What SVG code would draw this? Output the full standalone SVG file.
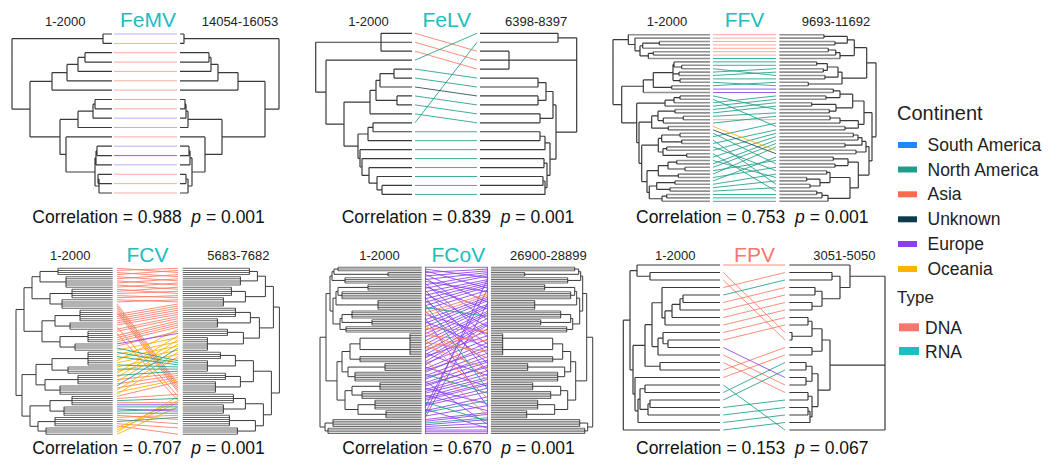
<svg xmlns="http://www.w3.org/2000/svg" width="1058" height="468" viewBox="0 0 1058 468">
<style>
text{font-family:"Liberation Sans",Arial,sans-serif}
.hd{font-size:13px;fill:#222}
.tt{font-size:21px;fill:#20BDBE;text-anchor:middle}
.cr{font-size:17.5px;fill:#111;white-space:pre}
.lg{font-size:17.5px;fill:#222}
.tr{fill:none;stroke:#3a3a3a;stroke-width:1.2}
.tr1{fill:none;stroke:#3a3a3a;stroke-width:1}
.tp{fill:none;stroke:#8f8f8f;stroke-width:1.6}
.d1{fill:none;stroke:#666;stroke-dasharray:1 1.1}
.d2{fill:none;stroke:#6d6d6d;stroke-dasharray:1 .75}
.c{fill:none;stroke-width:1;stroke-opacity:.85}
.s{stroke:#F97A62}.t{stroke:#1E9E89}.p{stroke:#8B3FEF}.o{stroke:#FFB000}.k{stroke:#1E4A55}
</style>
<rect width="1058" height="468" fill="#fff"/>

<g id="femv">
<text class="hd" x="45" y="26">1-2000</text>
<text class="tt" x="148" y="26.7">FeMV</text>
<text class="hd" x="201.7" y="26">14054-16053</text>
<path class="tr" d="M103 34H112M103 43.4H112M103 34V43.4M103 38.7H12M12 38.7V109.2M12 109.2H30M30 81.4V136.9M30 81.4H52M52 72.6V90.1M52 90.1H112M52 72.6H67M67 64.4V80.8M67 80.8H112M67 64.4H78M78 57.4V71.4M78 71.4H112M78 57.4H85M85 52.7V62.1M85 52.7H112M85 62.1H112M30 136.9H60M60 119.4V154.4M60 119.4H78M78 111.2V127.5M78 127.5H112M78 111.2H93M93 104.2V118.2M93 118.2H112M93 104.2H95M95 99.5V108.8M95 99.5H112M95 108.8H112M60 154.4H66M66 136.9V172M66 136.9H112M66 172H95M95 157.9V186M95 157.9H96M96 150.9V164.9M96 164.9H112M96 150.9H97M97 146.2V155.6M97 146.2H112M97 155.6H112M95 186H99M99 179V193M99 193H112M99 179H98M98 174.3V183.6M98 174.3H112M98 183.6H112"/>
<path class="tr" d="M180 34H184M180 43.4H184M184 34V43.4M184 38.7H279M279 38.7V109.2M279 109.2H265M265 81.4V136.9M265 81.4H238M238 72.6V90.1M180 90.1H238M238 72.6H218M218 64.4V80.8M180 80.8H218M218 64.4H211M211 57.4V71.4M180 71.4H211M211 57.4H209M209 52.7V62.1M180 52.7H209M180 62.1H209M265 136.9H222M222 119.4V154.4M222 119.4H188M188 111.2V127.5M180 127.5H188M188 111.2H186M186 104.2V118.2M180 118.2H186M186 104.2H185M185 99.5V108.8M180 99.5H185M180 108.8H185M222 154.4H205M205 136.9V172M180 136.9H205M205 172H192M192 157.9V186M192 157.9H190M190 150.9V164.9M180 164.9H190M190 150.9H189M189 146.2V155.6M180 146.2H189M180 155.6H189M192 186H188M188 179V193M180 193H188M188 179H186M186 174.3V183.6M180 174.3H186M180 183.6H186"/>
<g id="femv-links">
<path class="c" stroke="#B79DF7" d="M114 34H177M114 99.5H177M114 118.2H177M114 127.5H177M114 146.2H177M114 164.9H177"/>
<path class="c" stroke="#8B3FEF" d="M114 155.6H177"/>
<path class="c" stroke="#F99C90" d="M114 43.4H177M114 52.7H177M114 62.1H177M114 71.4H177M114 80.8H177M114 90.1H177M114 108.8H177M114 136.9H177M114 174.3H177M114 183.6H177M114 193H177"/>
</g>
<text class="cr" x="32.3" y="222.7">Correlation = 0.988  <tspan font-style="italic">p</tspan> = 0.001</text>
</g>

<g id="felv">
<text class="hd" x="348.3" y="26">1-2000</text>
<text class="tt" x="446.7" y="26.7">FeLV</text>
<text class="hd" x="505" y="26">6398-8397</text>
<path class="tr" d="M381 33.3V51.2M381 33.3H412M381 42.25H412M381 51.2H412M394 69.1V78.05M394 69.1H412M394 78.05H412M380 73.58V87M380 73.58H394M380 87H412M397 95.95V104.9M397 95.95H412M397 104.9H412M376 80.29V100.43M376 80.29H380M376 100.43H397M370 90.36V113.85M370 90.36H376M370 113.85H412M373 122.8V131.75M373 122.8H412M373 131.75H412M368 127.28V140.7M368 127.28H373M368 140.7H412M382 185.45V194.4M382 185.45H412M382 194.4H412M377 176.5V189.93M377 189.93H382M377 176.5H412M369 167.55V183.21M369 183.21H377M369 167.55H412M362 158.6V175.38M362 175.38H369M362 158.6H412M360 149.65V166.99M360 166.99H362M360 149.65H412M358 133.99V158.32M358 133.99H368M358 158.32H360M344 102.1V146.16M344 102.1H370M344 146.16H358M326 60.15V124.13M326 124.13H344M326 60.15H412M315.7 42.25V92.14M315.7 42.25H381M315.7 92.14H326"/>
<path class="tr" d="M558 33.3V42.25M480 33.3H558M480 42.25H558M509 51.2V69.1M480 51.2H509M480 60.15H509M480 69.1H509M538 78.05V87M480 78.05H538M480 87H538M538 95.95V104.9M480 95.95H538M480 104.9H538M546 82.53V100.43M538 82.53H546M538 100.43H546M540 113.85V122.8M480 113.85H540M480 122.8H540M553 91.48V118.33M546 91.48H553M540 118.33H553M540 131.75V140.7M480 131.75H540M480 140.7H540M545 136.23V149.65M540 136.23H545M480 149.65H545M544 158.6V167.55M480 158.6H544M480 167.55H544M543 176.5V185.45M480 176.5H543M480 185.45H543M545 180.98V194.4M543 180.98H545M480 194.4H545M547 163.08V187.69M544 163.08H547M545 187.69H547M550 142.94V175.39M545 142.94H550M547 175.39H550M556 104.9V159.17M553 104.9H556M550 159.17H556M576.7 37.78V132.04M558 37.78H576.7M509 60.15H576.7M556 132.04H576.7"/>
<g id="felv-links">
<path class="c s" d="M415 33.3L477 51.2M415 42.25L477 60.15M415 51.2L477 69.1"/>
<path class="c t" d="M415 60.15L477 33.3M415 69.1L477 78.05M415 78.05L477 87M415 95.95L477 104.9M415 104.9L477 113.85M415 113.85L477 122.8M415 122.8L477 42.25M415 131.75H477M415 140.7H477M415 149.65H477M415 158.6H477M415 167.55H477M415 176.5H477M415 185.45H477M415 194.4H477"/>
<path class="c k" d="M415 87L477 95.95"/>
</g>
<text class="cr" x="341.7" y="222.7">Correlation = 0.839  <tspan font-style="italic">p</tspan> = 0.001</text>
</g>

<g id="ffv">
<text class="hd" x="646.7" y="26">1-2000</text>
<text class="tt" x="744.5" y="26.7">FFV</text>
<text class="hd" x="801.7" y="26">9693-11692</text>
<path class="tp" d="M628.3 34.7H710M635 38.1H710M659.3 41.5H710M659.3 44.9H710M642.7 48.3H710M653.3 51.7H710M653.3 55.1H710M648.3 58.5H710M674 61.9H710M681.7 65.3H710M681.7 68.7H710M679 72.1H710M679 75.5H710M680 78.9H710M680 82.3H710M671.7 85.7H710M671.7 89.1H710M643.3 92.5H710M680 95.9H710M680 99.3H710M674 102.7H710M665 106.1H710M675 109.5H710M675 112.9H710M683.3 116.3H710M683.3 119.7H710M663.3 123.1H710M668.3 126.5H710M668.3 129.9H710M680 133.3H710M680 136.7H710M681.7 140.1H710M681.7 143.5H710M666.7 146.9H710M666.7 150.3H710M686.7 153.7H710M686.7 157.1H710M676.7 160.5H710M676.7 163.9H710M685 167.3H710M685 170.7H710M678.3 174.1H710M678.3 177.5H710M675 180.9H710M675 184.3H710M670 187.7H710M670 191.1H710M666.7 194.5H710M666.7 197.9H710M662 201.3H710"/>
<path class="tr" d="M659.3 41.5V44.9M642.7 43.2V48.3M642.7 43.2H659.3M653.3 51.7V55.1M648.3 53.4V58.5M648.3 53.4H653.3M640 45.75V55.95M640 45.75H642.7M640 55.95H648.3M635 38.1V50.85M635 50.85H640M628.3 34.7V44.48M628.3 44.48H635M681.7 65.3V68.7M674 61.9V67M674 67H681.7M679 72.1V75.5M680 78.9V82.3M673 64.45V80.6M673 64.45H674M673 73.8H679M673 80.6H680M671.7 85.7V89.1M653.3 72.53V87.4M653.3 72.53H673M653.3 87.4H671.7M643.3 79.97V92.5M643.3 79.97H653.3M680 95.9V99.3M674 97.6V102.7M674 97.6H680M665 100.15V106.1M665 100.15H674M675 109.5V112.9M683.3 116.3V119.7M663.3 118V123.1M663.3 118H683.3M658 111.2V120.55M658 111.2H675M658 120.55H663.3M668.3 126.5V129.9M651.7 115.88V128.2M651.7 115.88H658M651.7 128.2H668.3M680 133.3V136.7M681.7 140.1V143.5M661.7 135V141.8M661.7 135H680M661.7 141.8H681.7M666.7 146.9V150.3M686.7 153.7V157.1M663 148.6V155.4M663 148.6H666.7M663 155.4H686.7M658.3 138.4V152M658.3 138.4H661.7M658.3 152H663M676.7 160.5V163.9M685 167.3V170.7M668 162.2V169M668 162.2H676.7M668 169H685M678.3 174.1V177.5M658.3 165.6V175.8M658.3 165.6H668M658.3 175.8H678.3M675 180.9V184.3M670 187.7V191.1M656.7 182.6V189.4M656.7 182.6H675M656.7 189.4H670M666.7 194.5V197.9M662 196.2V201.3M662 196.2H666.7M649.3 186V198.75M649.3 186H656.7M649.3 198.75H662M647 170.7V192.38M647 170.7H658.3M647 192.38H649.3M641.7 145.2V181.54M641.7 145.2H658.3M641.7 181.54H647M639 122.04V163.37M639 122.04H651.7M639 163.37H641.7M636.7 103.13V142.7M636.7 103.13H665M636.7 142.7H639M621.7 86.24V122.92M621.7 86.24H643.3M621.7 122.92H636.7M613 39.59V104.58M613 39.59H628.3M613 104.58H621.7"/>
<path class="tp" d="M779.3 34.7H824M779.3 38.1H824M779.3 41.5H835M779.3 44.9H835M779.3 48.3H828.3M779.3 51.7H828.3M779.3 55.1H835.7M779.3 58.5H840M779.3 61.9H816.7M779.3 65.3H816.7M779.3 68.7H823.3M779.3 72.1H823.3M779.3 75.5H825M779.3 78.9H825M779.3 82.3H808.3M779.3 85.7H808.3M779.3 89.1H833.3M779.3 92.5H833.3M779.3 95.9H826M779.3 99.3H826M779.3 102.7H811.7M779.3 106.1H811.7M779.3 109.5H829.3M779.3 112.9H829.3M779.3 116.3H830M779.3 119.7H830M779.3 123.1H840M779.3 126.5H845M779.3 129.9H845M779.3 133.3H853.3M779.3 136.7H853.3M779.3 140.1H858M779.3 143.5H845M779.3 146.9H845M779.3 150.3H856M779.3 153.7H856M779.3 157.1H833.3M779.3 160.5H833.3M779.3 163.9H835M779.3 167.3H835M779.3 170.7H826.7M779.3 174.1H826.7M779.3 177.5H806.7M779.3 180.9H806.7M779.3 184.3H810M779.3 187.7H810M779.3 191.1H816.7M779.3 194.5H816.7M779.3 197.9H822M779.3 201.3H828"/>
<path class="tr" d="M824 34.7V38.1M835 41.5V44.9M847.3 36.4V43.2M824 36.4H847.3M835 43.2H847.3M828.3 48.3V51.7M835.7 50V55.1M828.3 50H835.7M840 52.55V58.5M835.7 52.55H840M854.3 39.8V55.53M847.3 39.8H854.3M840 55.53H854.3M816.7 61.9V65.3M823.3 68.7V72.1M827.3 63.6V70.4M816.7 63.6H827.3M823.3 70.4H827.3M825 75.5V78.9M838 67V77.2M827.3 67H838M825 77.2H838M808.3 82.3V85.7M842 72.1V84M838 72.1H842M808.3 84H842M866.7 47.67V78.05M854.3 47.67H866.7M842 78.05H866.7M833.3 89.1V92.5M826 95.9V99.3M840 90.8V97.6M833.3 90.8H840M826 97.6H840M811.7 102.7V106.1M829.3 109.5V112.9M836 104.4V111.2M811.7 104.4H836M829.3 111.2H836M852.7 94.2V107.8M840 94.2H852.7M836 107.8H852.7M830 116.3V119.7M840 118V123.1M830 118H840M845 126.5V129.9M858.3 120.55V128.2M840 120.55H858.3M845 128.2H858.3M864 101V124.38M852.7 101H864M858.3 124.38H864M853.3 133.3V136.7M858 135V140.1M853.3 135H858M845 143.5V146.9M862 137.55V145.2M858 137.55H862M845 145.2H862M856 150.3V153.7M866 141.38V152M862 141.38H866M856 152H866M833.3 157.1V160.5M835 163.9V167.3M848 158.8V165.6M833.3 158.8H848M835 165.6H848M826.7 170.7V174.1M806.7 177.5V180.9M810 184.3V187.7M820 179.2V186M806.7 179.2H820M810 186H820M830 172.4V182.6M826.7 172.4H830M820 182.6H830M816.7 191.1V194.5M822 192.8V197.9M816.7 192.8H822M828 195.35V201.3M822 195.35H828M850 177.5V198.33M830 177.5H850M828 198.33H850M858.3 162.2V187.92M848 162.2H858.3M850 187.92H858.3M869 146.69V175.06M866 146.69H869M858.3 175.06H869M872 112.69V160.88M864 112.69H872M869 160.88H872M876 62.86V136.79M866.7 62.86H876M872 136.79H876"/>
<g id="ffv-links">
<path class="c" stroke="#F99C90" d="M713 34.7H776M713 38.1H776M713 41.5H776M713 44.9H776M713 48.3H776M713 51.7H776M713 55.1H776M713 119.7H776"/>
<path class="c t" d="M713 58.5H776M713 61.9H776M713 65.3H776M713 68.7L776 75.5M713 72.1L776 68.7M713 75.5L776 72.1M713 78.9H776M713 82.3L776 85.7M713 85.7L776 82.3M713 95.9L776 109.5M713 99.3L776 126.5M713 102.7L776 95.9M713 106.1L776 99.3M713 109.5L776 102.7M713 112.9L776 106.1M713 116.3L776 112.9M713 123.1L776 116.3M713 133.3L776 163.9M713 136.7L776 123.1M713 140.1L776 184.3M713 143.5L776 129.9M713 146.9L776 170.7M713 150.3L776 133.3M713 153.7L776 191.1M713 157.1L776 136.7M713 160.5L776 177.5M713 163.9L776 140.1M713 167.3L776 143.5M713 170.7L776 160.5M713 174.1L776 146.9M713 177.5L776 167.3M713 180.9L776 157.1M713 184.3L776 174.1M713 187.7L776 180.9M713 191.1L776 187.7M713 194.5H776M713 197.9H776M713 201.3H776"/>
<path class="c p" d="M713 89.1H776M713 92.5H776"/>
<path class="c o" d="M713 126.5L776 150.3"/>
<path class="c k" d="M713 129.9L776 153.7"/>
</g>
<text class="cr" x="636" y="222.7">Correlation = 0.753  <tspan font-style="italic">p</tspan> = 0.001</text>
</g>

<g id="fcv">
<text class="hd" x="50" y="260">1-2000</text>
<text class="tt" x="147.5" y="261.7">FCV</text>
<text class="hd" x="207.3" y="260">5683-7682</text>
<g id="fcvL">
<path class="d1" style="stroke-width:54.7" d="M85.35 267.8V275.1"/>
<path class="d1" style="stroke-width:46.7" d="M89.35 276.2V287.7"/>
<path class="d1" style="stroke-width:40.7" d="M92.35 288.8V298.2"/>
<path class="d1" style="stroke-width:50.7" d="M87.35 299.3V308.7"/>
<path class="d1" style="stroke-width:32.7" d="M96.35 309.8V321.3"/>
<path class="d1" style="stroke-width:42.7" d="M91.35 322.4V329.7"/>
<path class="d1" style="stroke-width:24.7" d="M100.35 330.8V342.3"/>
<path class="d1" style="stroke-width:37.7" d="M93.85 343.4V350.7"/>
<path class="d1" style="stroke-width:24.7" d="M100.35 351.8V365.4"/>
<path class="d1" style="stroke-width:44.7" d="M90.35 366.5V373.8"/>
<path class="d1" style="stroke-width:34.7" d="M95.35 374.9V384.3"/>
<path class="d1" style="stroke-width:52.7" d="M86.35 385.4V394.8"/>
<path class="d1" style="stroke-width:40.7" d="M92.35 395.9V405.3"/>
<path class="d1" style="stroke-width:48.7" d="M88.35 406.4V415.8"/>
<path class="d1" style="stroke-width:57.7" d="M83.85 416.9V426.3"/>
<path class="d1" style="stroke-width:66.7" d="M79.35 427.4V434.7"/>
<path class="tr1" d="M58 268.3V274.6M66 276.7V287.2M72 289.3V297.7M62 299.8V308.2M80 310.3V320.8M70 322.9V329.2M88 331.3V341.8M75 343.9V350.2M88 352.3V364.9M68 367V373.3M78 375.4V383.8M60 385.9V394.3M72 396.4V404.8M64 406.9V415.3M55 417.4V425.8M46 427.9V434.2M40 271.45V281.95M40 271.45H58M40 281.95H66M50 293.5V304M50 293.5H72M50 304H62M55 315.55V326.05M55 315.55H80M55 326.05H70M60 336.55V347.05M60 336.55H88M60 347.05H75M52 358.6V370.15M52 358.6H88M52 370.15H68M45 379.6V390.1M45 379.6H78M45 390.1H60M50 400.6V411.1M50 400.6H72M50 411.1H64M38 421.6V431.05M38 421.6H55M38 431.05H46M32 276.7V298.75M32 276.7H40M32 298.75H50M42 320.8V341.8M42 320.8H55M42 341.8H60M36 364.4V384.85M36 364.4H52M36 384.85H45M30 405.85V426.3M30 405.85H50M30 426.3H38M24 287.7V331.3M24 287.7H32M24 331.3H42M22 374.6V416.1M22 374.6H36M22 416.1H30M16 309.5V395.4M16 309.5H24M16 395.4H22"/>
</g>
<use href="#fcvL" transform="matrix(-1 0 0 -1 295.4 702.5)"/>
<g id="fcv-links">
<path class="c s" d="M117 268.3L178 272.5M117 270.4L178 268.3M117 272.5L178 276.7M117 274.6L178 270.4M117 276.7L178 280.9M117 278.8L178 274.6M117 280.9L178 285.1M117 283L178 278.8M117 285.1L178 289.3M117 287.2L178 283M117 289.3L178 293.5M117 291.4L178 287.2M117 293.5L178 291.4M117 295.6L178 297.7M117 297.7L178 295.6M117 299.8L178 301.9M117 301.9L178 299.8M117 304L178 383.8M117 306.1L178 385.9M117 308.2L178 388M117 310.3L178 390.1M117 312.4L178 392.2M117 314.5L178 304M117 316.6L178 306.1M117 318.7L178 308.2M117 320.8L178 310.3M117 322.9L178 312.4M117 325L178 314.5M117 327.1L178 396.4M117 329.2L178 316.6M117 331.3L178 318.7M117 333.4L178 400.6M117 335.5L178 320.8M117 337.6L178 322.9M117 339.7L178 325M117 341.8L178 327.1M117 346L178 331.3M117 379.6L178 373.3M117 383.8L178 375.4M117 388L178 377.5M117 396.4L178 381.7M117 398.5L178 394.3M117 402.7H178M117 415.3L178 419.5M117 417.4L178 415.3M117 419.5L178 423.7M117 423.7L178 427.9M117 425.8L178 434.2"/>
<path class="c o" d="M117 350.2L178 337.6M117 354.4L178 341.8M117 358.6L178 346M117 360.7L178 329.2M117 362.8L178 350.2M117 367L178 354.4M117 371.2L178 358.6M117 373.3L178 335.5M117 377.5L178 339.7M117 381.7L178 343.9M117 390.1L178 352.3M117 392.2L178 379.6M117 394.3L178 356.5M117 427.9L178 400.6M117 430L178 402.7M117 432.1L178 396.4M117 434.2L178 406.9"/>
<path class="c t" d="M117 348.1L178 360.7M117 352.3L178 362.8M117 356.5L178 364.9M117 364.9L178 367M117 369.1H178M117 375.4L178 371.2M117 385.9L178 348.1M117 400.6L178 398.5M117 406.9H178M117 411.1L178 409M117 413.2H178M117 421.6L178 417.4"/>
<path class="c p" d="M117 343.9L178 333.4M117 404.8H178M117 409L178 411.1"/>
</g>
<text class="cr" x="32.3" y="453.5">Correlation = 0.707  <tspan font-style="italic">p</tspan> = 0.001</text>
</g>

<g id="fcov">
<text class="hd" x="359.3" y="260">1-2000</text>
<text class="tt" x="458.3" y="261.7">FCoV</text>
<text class="hd" x="510" y="260">26900-28899</text>
<g id="fcoL">
<path class="d2" style="stroke-width:83.7" d="M379.85 266.8V271.3"/>
<path class="d2" style="stroke-width:33.7" d="M404.85 272.05V276.55"/>
<path class="d2" style="stroke-width:76.7" d="M383.35 277.3V283.55"/>
<path class="d2" style="stroke-width:53.7" d="M394.85 284.3V290.55"/>
<path class="d2" style="stroke-width:79.7" d="M381.85 291.3V299.3"/>
<path class="d2" style="stroke-width:43.7" d="M399.85 300.05V309.8"/>
<path class="d2" style="stroke-width:69.7" d="M386.85 310.55V318.55"/>
<path class="d2" style="stroke-width:49.7" d="M396.85 319.3V325.55"/>
<path class="d2" style="stroke-width:75.7" d="M383.85 326.3V332.55"/>
<path class="d2" style="stroke-width:11.7" d="M415.85 333.3V355.3"/>
<path class="d2" style="stroke-width:61.7" d="M390.85 356.05V362.3"/>
<path class="d2" style="stroke-width:36.7" d="M403.35 363.05V371.05"/>
<path class="d2" style="stroke-width:66.7" d="M388.35 371.8V381.55"/>
<path class="d2" style="stroke-width:41.7" d="M400.85 382.3V390.3"/>
<path class="d2" style="stroke-width:59.7" d="M391.85 391.05V399.05"/>
<path class="d2" style="stroke-width:46.7" d="M398.35 399.8V409.55"/>
<path class="d2" style="stroke-width:35.7" d="M403.85 410.3V418.3"/>
<path class="d2" style="stroke-width:88.7" d="M377.35 419.05V427.05"/>
<path class="d2" style="stroke-width:93.7" d="M374.85 427.8V434.05"/>
<path class="tr1" d="M338 267.3V270.8M388 272.55V276.05M345 277.8V283.05M368 284.8V290.05M342 291.8V298.8M378 300.55V309.3M352 311.05V318.05M372 319.8V325.05M346 326.8V332.05M410 333.8V354.8M360 356.55V361.8M385 363.55V370.55M355 372.3V381.05M380 382.8V389.8M362 391.55V398.55M375 400.3V409.05M386 410.8V417.8M333 419.55V426.55M328 428.3V433.55M334 269.05V274.3M334 269.05H338M334 274.3H388M332 271.68V280.43M332 271.68H334M332 280.43H345M338 287.43V295.3M338 287.43H368M338 295.3H342M336 291.37V304.93M336 291.37H338M336 304.93H378M342 314.55V322.43M342 314.55H352M342 322.43H372M340 318.49V329.43M340 318.49H342M340 329.43H346M333 298.15V323.96M333 298.15H336M333 323.96H340M330 276.05V311.05M330 276.05H332M330 311.05H333M360 338.18V349.55M360 338.18H410M360 349.55H410M350 343.87V359.18M350 343.87H360M350 359.18H360M348 367.05V376.68M348 367.05H385M348 376.68H355M342 351.5V371.87M342 351.5H350M342 371.87H348M352 386.3V395.05M352 386.3H380M352 395.05H362M358 404.68V414.3M358 404.68H375M358 414.3H386M345 390.68V409.49M345 390.68H352M345 409.49H358M337 361.68V400.09M337 361.68H342M337 400.09H345M326 293.55V380.88M326 293.55H330M326 380.88H337M325 423.05V430.93M325 423.05H333M325 430.93H328M320 337.22V426.99M320 337.22H326M320 426.99H325"/>
</g>
<use href="#fcoL" transform="matrix(-1 0 0 1 912.7 0)"/>
<g id="fcov-links">
<path class="c p" stroke-opacity=".55" d="M425.5 267.3V433.55M487.5 267.3V433.55"/>
<path class="c p" d="M425 267.3H488M425 269.05L488 277.8M425 270.8L488 288.3M425 272.55L488 269.05M425 274.3L488 302.3M425 276.05L488 270.8M425 277.8L488 319.8M425 279.55L488 272.55M425 281.3L488 291.8M425 283.05L488 337.3M425 284.8L488 274.3M425 286.55L488 309.3M425 288.3L488 276.05M425 290.05L488 354.8M425 291.8L488 279.55M425 293.55L488 326.8M425 295.3L488 281.3M425 297.05L488 372.3M425 298.8L488 283.05M425 300.55L488 344.3M425 302.3L488 284.8M425 305.8L488 286.55M425 309.3L488 290.05M425 311.05L488 363.55M425 314.55L488 333.8M425 318.05L488 407.3M425 319.8L488 297.05M425 321.55L488 347.8M425 323.3L488 298.8M425 326.8L488 300.55M425 330.3L488 304.05M425 333.8L488 305.8M425 337.3L488 307.55M425 340.8L488 311.05M425 344.3L488 312.8M425 347.8L488 314.55M425 351.3L488 318.05M425 353.05L488 375.8M425 354.8L488 321.55M425 356.55L488 335.55M425 358.3L488 323.3M425 361.8L488 325.05M425 363.55L488 339.05M425 365.3L488 328.55M425 367.05L488 386.3M425 368.8L488 342.55M425 370.55L488 349.55M425 372.3L488 346.05M425 375.8L488 353.05M425 377.55L488 360.05M425 379.3L488 356.55M425 381.05L488 424.8M425 382.8L488 361.8M425 384.55L488 367.05M425 386.3L488 365.3M425 388.05L488 403.8M425 389.8L488 370.55M425 391.55L488 374.05M425 393.3L488 377.55M425 395.05L488 410.8M425 396.8L488 379.3M425 398.55L488 382.8M425 400.3L488 384.55M425 403.8L488 388.05M425 405.55L488 391.55M425 407.3L488 288.3M425 409.05L488 428.3M425 410.8L488 396.8M425 414.3L488 277.8M425 416.05L488 405.55M425 417.8L488 302.3M425 419.55L488 412.55M425 421.3L488 414.3M425 424.8L488 419.55M425 426.55L488 423.05M425 428.3L488 426.55M425 430.05H488M425 431.8H488M425 433.55H488"/>
<path class="c s" d="M425 312.8L488 293.55M425 316.3L488 295.3M425 325.05L488 381.05M425 328.55L488 330.3M425 332.05L488 358.3M425 335.55L488 340.8M425 339.05L488 398.55M425 342.55L488 351.3M425 346.05L488 368.8M425 349.55L488 332.05M425 360.05L488 416.05"/>
<path class="c t" d="M425 304.05L488 389.8M425 307.55L488 316.3M425 374.05L488 393.3M425 402.05L488 421.3M425 412.55L488 400.3M425 423.05L488 417.8"/>
</g>
<text class="cr" x="342.3" y="453.5">Correlation = 0.670  <tspan font-style="italic">p</tspan> = 0.001</text>
</g>

<g id="fpv">
<text class="hd" x="655" y="260">1-2000</text>
<text class="tt" x="754.5" y="261.7" style="fill:#F8766D">FPV</text>
<text class="hd" x="813.3" y="260">3051-5050</text>
<path class="tr" d="M637 265H720M650 272.5H720M650 280H720M662 287.5H720M683 295H720M683 302.5H720M680 310H720M672 317.5H720M665 325H720M663 332.5H720M668 340H720M668 347.5H720M658 355H720M660 362.5H720M660 370H720M635 377.5H720M645 385H720M645 392.5H720M650 400H720M650 407.5H720M648 415H720M638 422.5H720M623.3 430H720M650 272.5V280M637 265V276.25M637 276.25H650M683 295V302.5M680 298.75V310M680 298.75H683M672 304.38V317.5M672 304.38H680M665 310.94V325M665 310.94H672M662 287.5V317.97M662 317.97H665M668 340V347.5M663 332.5V343.75M663 343.75H668M658 338.13V355M658 338.13H663M652 302.73V346.56M652 302.73H662M652 346.56H658M660 362.5V370M645 324.65V366.25M645 324.65H652M645 366.25H660M650 400V407.5M648 403.75V415M648 403.75H650M645 385V392.5M640 388.75V409.38M640 388.75H645M640 409.38H648M638 399.07V422.5M638 399.07H640M635 377.5V410.79M635 410.79H638M633 345.45V394.15M633 345.45H645M633 394.15H635M630 270.63V369.8M630 270.63H637M630 369.8H633M623.3 320.22V430M623.3 320.22H630"/>
<path class="tr" d="M789.3 265H850M789.3 272.5H832M789.3 280H832M789.3 287.5H815M789.3 295H815M789.3 302.5H812M789.3 310H812M789.3 317.5H808M789.3 325H808M789.3 332.5H792M789.3 340H792M789.3 347.5H812M789.3 355H812M789.3 362.5H806M789.3 370H806M789.3 377.5H806M789.3 385H806M789.3 392.5H808M789.3 400H808M789.3 407.5H808M789.3 415H808M789.3 422.5H810M789.3 430H885M832 272.5V280M815 287.5V295M812 302.5V310M822 291.25V306.25M815 291.25H822M812 306.25H822M840 276.25V298.75M832 276.25H840M822 298.75H840M850 265V287.5M840 287.5H850M792 332.5V340M808 317.5V325M812 321.25V336.25M808 321.25H812M792 336.25H812M812 347.5V355M822 328.75V351.25M812 328.75H822M812 351.25H822M806 362.5V370M806 377.5V385M812 366.25V381.25M806 366.25H812M806 381.25H812M808 392.5V400M808 407.5V415M810 411.25V422.5M808 411.25H810M812 396.25V416.88M808 396.25H812M810 416.88H812M818 373.75V406.57M812 373.75H818M812 406.57H818M830 340V390.16M822 340H830M818 390.16H830M885 276.25V430M850 276.25H885M830 365.08H885"/>
<g id="fpv-links">
<path class="c s" d="M723.3 265H785M723.3 272.5L785 332.5M723.3 280L785 340M723.3 287.5L785 272.5M723.3 302.5L785 287.5M723.3 310L785 295M723.3 317.5L785 302.5M723.3 325L785 310M723.3 332.5L785 317.5M723.3 340L785 325M723.3 355L785 385M723.3 362.5L785 392.5M723.3 370L785 347.5M723.3 377.5L785 355"/>
<path class="c t" d="M723.3 295L785 280M723.3 385L785 430M723.3 392.5L785 362.5M723.3 400L785 370M723.3 407.5L785 400M723.3 415L785 407.5M723.3 422.5L785 415M723.3 430L785 422.5"/>
<path class="c p" d="M723.3 347.5L785 377.5"/>
</g>
<text class="cr" x="636" y="453.5">Correlation = 0.153  <tspan font-style="italic">p</tspan> = 0.067</text>
</g>

<g id="legend">
<text x="897" y="120" style="font-size:20px;fill:#222">Continent</text>
<rect x="898" y="142" width="19" height="6" fill="#1E86FF"/>
<text class="lg" x="927.5" y="151">South America</text>
<rect x="898" y="166.5" width="19" height="6" fill="#1E9E89"/>
<text class="lg" x="927.5" y="175.5">North America</text>
<rect x="898" y="191.3" width="19" height="6" fill="#FF6A4D"/>
<text class="lg" x="927.5" y="200.3">Asia</text>
<rect x="898" y="216.3" width="19" height="6" fill="#0D3B4C"/>
<text class="lg" x="927.5" y="225.3">Unknown</text>
<rect x="898" y="241" width="19" height="6" fill="#8B3FEF"/>
<text class="lg" x="927.5" y="250">Europe</text>
<rect x="898" y="266" width="19" height="6" fill="#FFB300"/>
<text class="lg" x="927.5" y="275">Oceania</text>
<text x="897" y="303" style="font-size:17px;fill:#222">Type</text>
<rect x="899" y="323.3" width="20" height="8" fill="#F8766D"/>
<text class="lg" x="925" y="333.5">DNA</text>
<rect x="899" y="347" width="20" height="8" fill="#1ABFC4"/>
<text class="lg" x="925" y="357.5">RNA</text>
</g>
</svg>
